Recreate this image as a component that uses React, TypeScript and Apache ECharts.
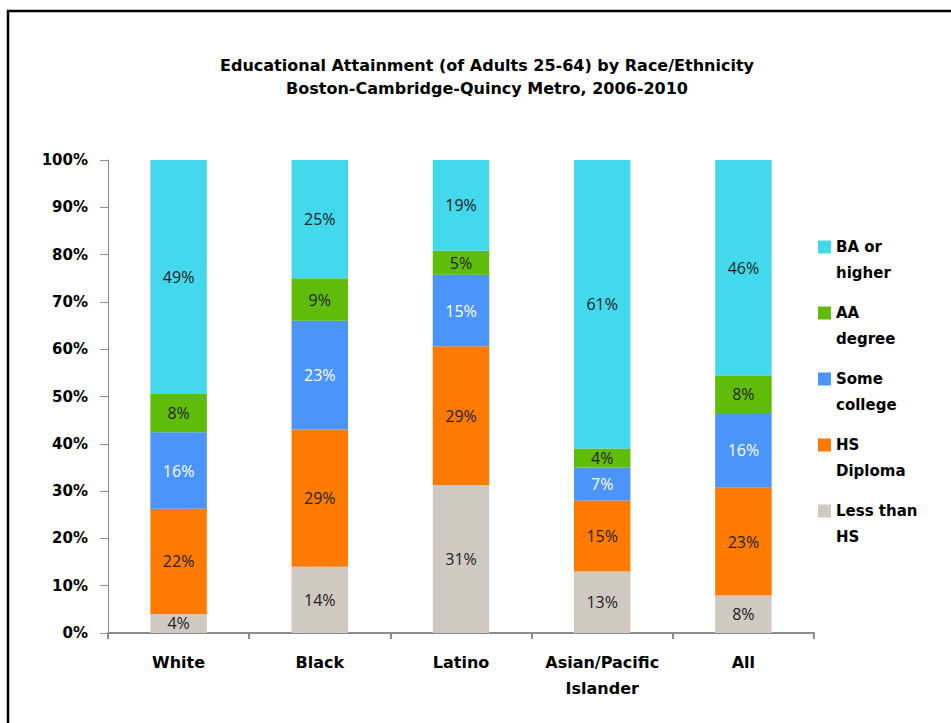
import React, { useEffect, useRef } from "react";
import * as echarts from "echarts";

const categories = ["White", "Black", "Latino", "Asian/Pacific\nIslander", "All"];
const seriesNames = ["Less than HS", "HS Diploma", "Some college", "AA degree", "BA or higher"];
const legendLabels = ["Less than\nHS", "HS\nDiploma", "Some\ncollege", "AA\ndegree", "BA or\nhigher"];
const lessThanHS = [4, 14, 31, 13, 8];
const hsDiploma = [22, 29, 29, 15, 23];
const someCollege = [16, 23, 15, 7, 16];
const aaDegree = [8, 9, 5, 4, 8];
const baOrHigher = [49, 25, 19, 61, 46];
const yTicks = [0, 10, 20, 30, 40, 50, 60, 70, 80, 90, 100];

const colors = ["#cfc9c2", "#ff7a00", "#4a94fa", "#5fbd0a", "#43d8ec"];
const labelColors = ["#222", "#222", "#ffffff", "#222", "#222"];
const boldFont = "'DejaVu Sans', 'Liberation Sans', sans-serif";

export default function App() {
  const ref = useRef<HTMLDivElement>(null);
  useEffect(() => {
    if (!ref.current) return;
    const chart = echarts.init(ref.current, null, { renderer: "svg" });
    const all = [lessThanHS, hsDiploma, someCollege, aaDegree, baOrHigher];
    const totals = categories.map((_, i) => all.reduce((s, arr) => s + arr[i], 0));
    const series = all.map((arr, si) => ({
      name: seriesNames[si],
      type: "bar",
      stack: "total",
      barWidth: "40%",
      data: arr.map((v, i) => (v / totals[i]) * 100),
      itemStyle: { color: colors[si] },
      label: {
        show: true,
        position: "inside",
        color: labelColors[si],
        fontFamily: "'Open Sans', 'Noto Sans', sans-serif",
        fontSize: 16,
        formatter: (p: any) => `${arr[p.dataIndex]}%`,
      },
    }));
    const legendMap: Record<string, string> = {};
    seriesNames.forEach((n, i) => (legendMap[n] = legendLabels[i]));
    chart.setOption({
      animation: false,
      backgroundColor: "#ffffff",
      title: {
        text: "Educational Attainment (of Adults 25-64) by Race/Ethnicity\nBoston-Cambridge-Quincy Metro, 2006-2010",
        left: 482,
        top: 49,
        textAlign: "center",
        textStyle: {
          fontFamily: boldFont,
          fontSize: 16,
          fontWeight: "bold",
          lineHeight: 23,
          color: "#000",
        },
      },
      legend: {
        orient: "vertical",
        left: 813,
        top: 203,
        itemWidth: 13,
        itemHeight: 13,
        itemGap: -12,
        icon: "rect",
        data: [...seriesNames].reverse(),
        formatter: (n: string) => " \n" + legendMap[n],
        textStyle: {
          fontFamily: boldFont,
          fontSize: 15,
          fontWeight: "bold",
          color: "#000",
          lineHeight: 26,
        },
      },
      grid: { left: 108, right: 137, top: 160, bottom: 90, containLabel: false },
      xAxis: {
        type: "category",
        data: categories,
        axisLine: { lineStyle: { color: "#8c8c8c", width: 2 } },
        axisTick: { show: true, alignWithLabel: false, length: 6, lineStyle: { color: "#8c8c8c", width: 2 } },
        axisLabel: {
          margin: 16,
          interval: 0,
          fontFamily: boldFont,
          fontSize: 16,
          fontWeight: "bold",
          color: "#000",
          lineHeight: 26,
        },
      },
      yAxis: {
        type: "value",
        min: yTicks[0],
        max: yTicks[yTicks.length - 1],
        interval: 10,
        axisLine: { show: true, lineStyle: { color: "#8c8c8c", width: 1 } },
        axisTick: { show: true, length: 8, lineStyle: { color: "#8c8c8c" } },
        splitLine: { show: false },
        axisLabel: {
          margin: 20,
          formatter: "{value}%",
          fontFamily: boldFont,
          fontSize: 15,
          fontWeight: "bold",
          color: "#000",
        },
      },
      graphic: [
        {
          type: "rect",
          shape: { x: 8, y: 11, width: 960, height: 730 },
          style: { fill: "none", stroke: "#000", lineWidth: 2.5 },
          silent: true,
        },
      ],
      series,
    });
    return () => chart.dispose();
  }, []);
  return (
    <div
      ref={ref}
      style={{ position: "fixed", left: 0, top: 0, width: 951, height: 723 }}
    />
  );
}
